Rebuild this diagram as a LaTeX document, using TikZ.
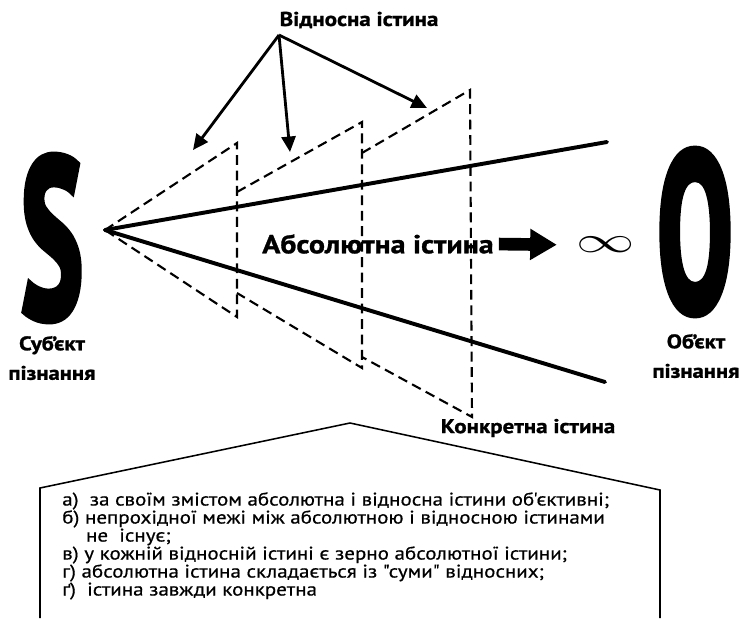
\documentclass[tikz,border=0pt]{standalone}
\usepackage{fontspec}
\setmainfont{PT Sans}
\newfontfamily\bodyfont[FakeStretch=1.15,FakeBold=0.6]{PT Sans}
\newfontfamily\labelfont[FakeStretch=1.15,FakeBold=1.2]{PT Sans Bold}
\newfontfamily\letterfont[FakeBold=4]{PT Sans Bold}
\usetikzlibrary{arrows.meta}

\begin{document}
\begin{tikzpicture}[x=0.025cm,y=-0.025cm]
    \tikzstyle{label}=[font=\labelfont\fontsize{14.2}{17}\selectfont,inner sep=0pt,align=center]
    \tikzstyle{side}=[label,font=\labelfont\fontsize{14}{21}\selectfont]
    \tikzstyle{ray}=[line width=2.8pt,line cap=round]
    \tikzstyle{sheet}=[line width=1.5pt,dash pattern=on 7pt off 4pt]
    \tikzstyle{pointer}=[line width=2pt,-{Triangle[length=11pt,width=10pt]}]
    \tikzstyle{fatarrow}=[line width=9pt,-{Triangle[length=19pt,width=21pt]},shorten <=3.5pt,shorten >=14pt]

    \useasboundingbox (0,0) rectangle (742,618);

    \node[inner sep=0pt] (subject) at (52,238) {\scalebox{0.52}[1]{\letterfont\fontsize{160}{160}\selectfont S}};
    \node[inner sep=0pt] (object) at (695,232) {\scalebox{0.5}[1]{\letterfont\fontsize{160}{160}\selectfont O}};
    \node[side] (subjname) at (52,358) {Суб’єкт\\пізнання};
    \node[side] (objname) at (696,356) {Об’єкт\\пізнання};

    \node[label] (relative) at (359,20) {Відносна істина};
    \node[label] (concrete) at (528,428) {Конкретна істина};
    \node[label,font=\labelfont\fontsize{18.5}{20}\selectfont,anchor=west] (absolute) at (262,244) {Абсолютна істина};
    \node[inner sep=0pt] (infinity) at (606,245) {\scalebox{2}[1.25]{\fontsize{20}{20}\selectfont$\infty$}};

    \coordinate (apex) at (105,230);
    \coordinate (upend) at (607,142);
    \coordinate (lowend) at (605,382);
    \coordinate (p1t) at (237,143);
    \coordinate (p1b) at (237,317);
    \coordinate (p1u) at (237,192);
    \coordinate (p1l) at (237,293);
    \coordinate (p2t) at (362,122);
    \coordinate (p2b) at (362,368);
    \coordinate (p2u) at (362,153);
    \coordinate (p2l) at (362,357);
    \coordinate (p3t) at (470,90);
    \coordinate (p3b) at (472,417);
    \coordinate (fork) at (279,35);
    \coordinate (tip1) at (193,150);
    \coordinate (tip2) at (290,152);
    \coordinate (tip3) at (427,108);

    \draw[sheet] (apex) -- (p1t) -- (p1b) -- cycle;
    \draw[sheet] (p1u) -- (p2t) -- (p2b) -- (p1l);
    \draw[sheet] (p2u) -- (p3t) -- (p3b) -- (p2l);
    \draw[ray] (apex) -- (upend);
    \draw[ray] (apex) -- (lowend);

    \draw[pointer] (fork) -- (tip1);
    \draw[pointer] (fork) -- (tip2);
    \draw[pointer] (fork) -- (tip3);
    \draw[fatarrow] (absolute.east) -- (infinity.west);

    \draw[line width=1.1pt] (40,618) -- (40,488) -- (350,423) -- (660,490) -- (660,618);
    \node[inner sep=0pt,anchor=north west,align=left,font=\bodyfont\fontsize{13}{12.8}\selectfont] (points) at (62,492) {%
        а)\ \ за своїм змістом абсолютна і відносна істини об'єктивні;\\
        б) непрохідної межі між абсолютною і відносною істинами\\
        \hspace*{1.3em}не\ \ існує;\\
        в) у кожній відносній істині є зерно абсолютної істини;\\
        г) абсолютна істина складається із "суми" відносних;\\
        ґ)\ \ істина завжди конкретна};
\end{tikzpicture}
\end{document}
